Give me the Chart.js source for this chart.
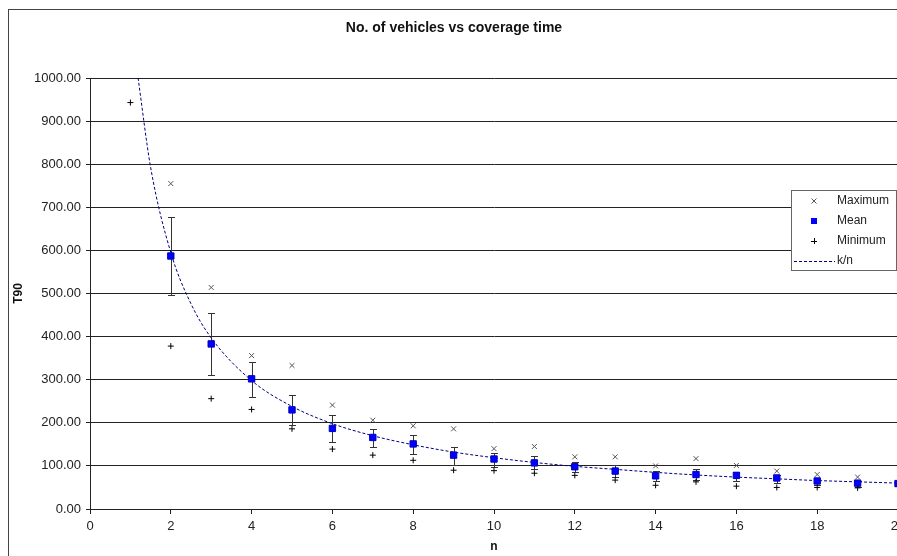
<!DOCTYPE html>
<html>
<head>
<meta charset="utf-8">
<script src="https://cdn.jsdelivr.net/npm/chart.js@4.4.0/dist/chart.umd.min.js"></script>
<style>
  body { margin: 0; background: #fff; }
  #wrap { width: 897px; height: 556px; overflow: hidden; position: relative; }
</style>
</head>
<body>
<div id="wrap"><canvas id="chart" width="930" height="556"></canvas></div>
<script>
// values (T90 per number of vehicles n)
var nList  = [1, 2, 3, 4, 5, 6, 7, 8, 9, 10, 11, 12, 13, 14, 15, 16, 17, 18, 19, 20];
var maxT   = [null, 755, 514, 356, 333, 241, 206, 193, 186, 140, 145, 121, 121, 100, 117, 101, 88, 80, 74, null];
var meanT  = [null, 587, 383, 302, 230, 187, 166, 151, 125, 116, 107, 98, 88, 77, 80, 78, 72, 65, 60, 59];
var minT   = [943, 378, 256, 231, 186, 139, 125, 113, 90, 89, 83, 78, 67, 55, 63, 53, 50, 50, 49, null];
var errHi  = [null, 677, 454, 341, 264, 217, 186, 171, 145, 131, 123, 110, 101, 88, 92, 87, 79, 71, 65, 64];
var errLo  = [null, 496, 311, 261, 196, 156, 143, 127, 101, 97, 92, 86, 75, 65, 67, 66, 61, 56, 52, 54];

// k/n trend line, read at these n
var curveN = [1.19, 1.5, 2, 2.5, 3, 4, 5, 6, 7, 8, 9, 10, 11, 12, 13, 14, 15, 16, 17, 18, 19, 20, 20.5];
var curveT = [1000, 793, 595, 476, 397, 298, 238, 198, 170, 149, 132, 119, 108, 99, 92, 85, 79, 74, 70, 66, 63, 60, 58];

var legendItems = ['Maximum', 'Mean', 'Minimum', 'k/n'];

function pts(ys) {
  var out = [];
  ys.forEach(function(y, i) { if (y !== null) out.push({x: nList[i], y: y}); });
  return out;
}

var FONT = '"Liberation Sans", Arial, sans-serif';

var frame = {
  id: 'frame',
  beforeDraw: function(chart) {
    var ctx = chart.ctx;
    ctx.save();
    ctx.fillStyle = '#fff';
    ctx.fillRect(0, 0, chart.width, chart.height);
    ctx.strokeStyle = '#444';
    ctx.lineWidth = 1;
    ctx.strokeRect(8.5, 9.5, chart.width + 20, chart.height + 20);
    ctx.restore();
  }
};

var errorBars = {
  id: 'errorBars',
  beforeDatasetsDraw: function(chart) {
    var ctx = chart.ctx, xs = chart.scales.x, ys = chart.scales.y, a = chart.chartArea;
    ctx.save();
    ctx.beginPath();
    ctx.rect(a.left, a.top, a.right - a.left, a.bottom - a.top);
    ctx.clip();
    ctx.strokeStyle = '#333';
    ctx.lineWidth = 1;
    nList.forEach(function(n, i) {
      if (errHi[i] === null) return;
      var x = Math.round(xs.getPixelForValue(n)) + 0.5;
      var yt = Math.round(ys.getPixelForValue(errHi[i])) + 0.5;
      var yb = Math.round(ys.getPixelForValue(errLo[i])) + 0.5;
      ctx.beginPath();
      ctx.moveTo(x, yt); ctx.lineTo(x, yb);
      ctx.moveTo(x - 3.5, yt); ctx.lineTo(x + 3.5, yt);
      ctx.moveTo(x - 3.5, yb); ctx.lineTo(x + 3.5, yb);
      ctx.stroke();
    });
    ctx.restore();
  }
};

var boxLegend = {
  id: 'boxLegend',
  afterDraw: function(chart) {
    var ctx = chart.ctx;
    var bx = 791.5, by = 190.5, bw = 105, bh = 80;
    ctx.save();
    ctx.fillStyle = '#fff';
    ctx.fillRect(bx, by, bw, bh);
    ctx.strokeStyle = '#666';
    ctx.lineWidth = 1;
    ctx.strokeRect(bx, by, bw, bh);
    ctx.font = '12px ' + FONT;
    ctx.fillStyle = '#222';
    ctx.textBaseline = 'middle';
    var rows = [201, 221, 241, 261];
    var mx = 814;
    legendItems.forEach(function(t, i) {
      ctx.fillText(t, 837, rows[i]);
    });
    // markers
    ctx.strokeStyle = '#555';
    ctx.beginPath();
    ctx.moveTo(mx - 2.5, rows[0] - 2.5); ctx.lineTo(mx + 2.5, rows[0] + 2.5);
    ctx.moveTo(mx + 2.5, rows[0] - 2.5); ctx.lineTo(mx - 2.5, rows[0] + 2.5);
    ctx.stroke();
    ctx.fillStyle = '#0000ff';
    ctx.fillRect(mx - 3, rows[1] - 3, 6, 6);
    ctx.strokeStyle = '#000';
    ctx.beginPath();
    ctx.moveTo(mx - 3, rows[2] + 0.5); ctx.lineTo(mx + 3, rows[2] + 0.5);
    ctx.moveTo(mx + 0.5, rows[2] - 3); ctx.lineTo(mx + 0.5, rows[2] + 3);
    ctx.stroke();
    ctx.strokeStyle = '#000080';
    ctx.setLineDash([3, 2]);
    ctx.beginPath();
    ctx.moveTo(794, rows[3] + 0.5); ctx.lineTo(835, rows[3] + 0.5);
    ctx.stroke();
    ctx.restore();
  }
};

new Chart(document.getElementById('chart'), {
  type: 'scatter',
  data: {
    datasets: [
      {
        label: 'Maximum',
        data: pts(maxT),
        pointStyle: 'crossRot',
        pointRadius: 3.5,
        borderColor: '#555',
        borderWidth: 1
      },
      {
        label: 'Mean',
        data: pts(meanT),
        pointStyle: 'rect',
        pointRadius: 4.5,
        backgroundColor: '#0000ff',
        borderColor: '#0000c0',
        borderWidth: 1
      },
      {
        label: 'Minimum',
        data: pts(minT),
        pointStyle: 'cross',
        pointRadius: 3,
        borderColor: '#000',
        borderWidth: 1
      },
      {
        label: 'k/n',
        type: 'line',
        data: curveN.map(function(n, i) { return {x: n, y: curveT[i]}; }),
        showLine: true,
        fill: false,
        pointRadius: 0,
        borderColor: '#000080',
        borderWidth: 1,
        borderDash: [3, 2],
        cubicInterpolationMode: 'monotone'
      }
    ]
  },
  options: {
    responsive: false,
    animation: false,
    devicePixelRatio: 1,
    layout: { padding: { left: 10, right: 32, top: 0, bottom: 0 } },
    plugins: {
      legend: { display: false },
      tooltip: { enabled: false },
      title: {
        display: true,
        text: 'No. of vehicles vs coverage time',
        color: '#111',
        font: { family: FONT, size: 14, weight: 'bold' },
        padding: { top: 20, bottom: 41.2 }
      }
    },
    scales: {
      x: {
        type: 'linear',
        min: 0,
        max: 20,
        afterFit: function(s) { s.height = 47; },
        ticks: { stepSize: 2, padding: 5, color: '#222', font: { family: FONT, size: 13 }, maxRotation: 0 },
        grid: { drawOnChartArea: false, drawTicks: true, tickLength: 5, color: '#222' },
        border: { color: '#222' },
        title: { display: true, text: 'n', color: '#111', font: { family: FONT, size: 12, weight: 'bold' }, padding: { top: 0, bottom: 2 } }
      },
      y: {
        min: 0,
        max: 1000,
        afterFit: function(s) { s.width = 80; },
        ticks: {
          stepSize: 100,
          padding: 5,
          color: '#222',
          font: { family: FONT, size: 13 },
          callback: function(v) { return v.toFixed(2); }
        },
        grid: { color: '#222', tickLength: 4 },
        border: { color: '#222' },
        title: { display: true, text: 'T90', color: '#111', font: { family: FONT, size: 12, weight: 'bold' }, padding: { top: 1, bottom: 0 } }
      }
    }
  },
  plugins: [frame, errorBars, boxLegend]
});
</script>
</body>
</html>
